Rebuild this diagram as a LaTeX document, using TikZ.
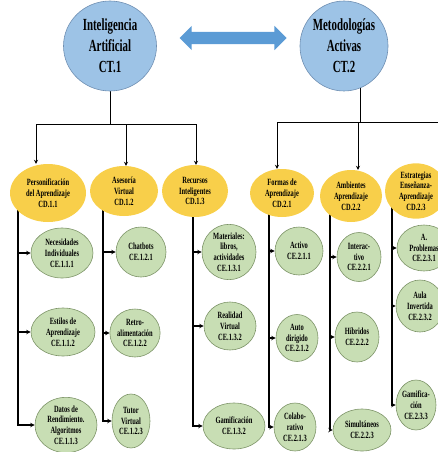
\documentclass[tikz,border=0pt]{standalone}
\usepackage{fontspec}
\newfontfamily\narrowfont[FakeStretch=0.68]{Liberation Serif}
\newfontfamily\titlefont[FakeStretch=0.64]{Liberation Serif}
\usetikzlibrary{shapes.geometric,shapes.arrows,arrows.meta}
\pgfdeclarelayer{background}
\pgfsetlayers{background,main}
\definecolor{topblue}{HTML}{9DC3E6}
\definecolor{topedge}{HTML}{6F8FB2}
\definecolor{linkblue}{HTML}{5B9BD5}
\definecolor{dimyellow}{HTML}{F8CF4A}
\definecolor{itemgreen}{HTML}{C8DEB4}
\definecolor{itemedge}{HTML}{7D9468}
\begin{document}
\begin{tikzpicture}[x=1pt, y=-1pt,
    every node/.style={ellipse, inner sep=0pt, align=center, font=\narrowfont\bfseries\fontsize{9.5}{10.8}\selectfont},
    topnode/.style={draw=topedge, line width=0.6pt, fill=topblue, font=\titlefont\bfseries\fontsize{17}{21}\selectfont},
    dimnode/.style={fill=dimyellow},
    itemnode/.style={draw=itemedge, line width=0.6pt, fill=itemgreen},
    feed/.style={-{Stealth[length=4pt,width=4pt]}, line width=1pt},
    branch/.style={-{Stealth[length=4.5pt,width=4.5pt]}, line width=1.3pt}]
    \useasboundingbox (0,0) rectangle (438,452);
    \clip (0,0) rectangle (438,452);

        % Two categories.
        \node[topnode, minimum width=93pt, minimum height=90pt] (ct1) at (110,46) {Inteligencia\\Artificial\\CT.1};
        \node[topnode, minimum width=88pt, minimum height=90pt] (ct2) at (344,46) {Metodologías\\Activas\\CT.2};
        \node[double arrow, fill=linkblue, minimum height=107pt, inner sep=6pt, double arrow head extend=6pt] (relation) at (233,38) {};

        % Dimensions of CT.1.
        \node[dimnode, minimum width=76pt, minimum height=58pt] (cd11) at (48,193) {Personificación\\del Aprendizaje\\CD.1.1};
        \node[dimnode, minimum width=68pt, minimum height=50pt] (cd12) at (124,191) {Asesoría\\Virtual\\CD.1.2};
        \node[dimnode, minimum width=66pt, minimum height=52pt] (cd13) at (195,191) {Recursos\\Inteligentes\\CD.1.3};

        % Dimensions of CT.2.
        \node[dimnode, minimum width=64pt, minimum height=48pt] (cd21) at (282,193) {Formas de\\Aprendizaje\\CD.2.1};
        \node[dimnode, minimum width=62pt, minimum height=52pt] (cd22) at (351,196) {Ambientes\\Aprendizaje\\CD.2.2};
        \node[dimnode, minimum width=62pt, minimum height=52pt] (cd23) at (416,191) {Estrategias\\Enseñanza-\\Aprendizaje\\CD.2.3};

        % Items of CD.1.1, CD.1.2, CD.1.3.
        \node[itemnode, minimum width=62pt, minimum height=50pt] (ce111) at (62,253) {Necesidades\\Individuales\\CE.1.1.1};
        \node[itemnode, minimum width=64pt, minimum height=48pt] (ce112) at (63,332) {Estilos de\\Aprendizaje\\CE.1.1.2};
        \node[itemnode, minimum width=62pt, minimum height=55pt] (ce113) at (66,425) {Datos de\\Rendimiento.\\Algoritmos\\CE.1.1.3};
        \node[itemnode, minimum width=50pt, minimum height=50pt] (ce121) at (141,252) {Chatbots\\CE.1.2.1};
        \node[itemnode, minimum width=46pt, minimum height=48pt] (ce122) at (135,333) {Retro-\\alimentación\\CE.1.2.2};
        \node[itemnode, minimum width=38pt, minimum height=54pt] (ce123) at (131,421) {Tutor\\Virtual\\CE.1.2.3};
        \node[itemnode, minimum width=54pt, minimum height=50pt] (ce131) at (229,252) {Materiales:\\libros,\\actividades\\CE.1.3.1};
        \node[itemnode, minimum width=52pt, minimum height=48pt] (ce132) at (230,326) {Realidad\\Virtual\\CE.1.3.2};
        \node[itemnode, minimum width=62pt, minimum height=46pt] (ce133) at (234,426) {Gamificación\\CE.1.3.2};

        % Items of CD.2.1, CD.2.2, CD.2.3.
        \node[itemnode, minimum width=48pt, minimum height=48pt] (ce211) at (299,251) {Activo\\CE.2.1.1};
        \node[itemnode, minimum width=42pt, minimum height=47pt] (ce212) at (297,338) {Auto\\dirigido\\CE.2.1.2};
        \node[itemnode, minimum width=42pt, minimum height=48pt] (ce213) at (295,427) {Colabo-\\rativo\\CE.2.1.3};
        \node[itemnode, minimum width=44pt, minimum height=49pt] (ce221) at (359,257) {Interac-\\tivo\\CE.2.2.1};
        \node[itemnode, minimum width=44pt, minimum height=50pt] (ce222) at (357,337) {Híbridos\\CE.2.2.2};
        \node[itemnode, minimum width=58pt, minimum height=42pt] (ce223) at (362,430) {Simultáneos\\CE.2.2.3};
        \node[itemnode, minimum width=54pt, minimum height=46pt] (ce231) at (424,248) {A.\\Problemas\\CE.2.3.1};
        \node[itemnode, minimum width=48pt, minimum height=52pt] (ce232) at (420,306) {Aula\\Invertida\\CE.2.3.2};
        \node[itemnode, minimum width=40pt, minimum height=50pt] (ce233) at (416,405) {Gamifica-\\ción\\CE.2.3.3};

        \begin{pgfonlayer}{background}
        % Category to dimension.
        \draw[feed] (ct1.center) -- ++(0,78) -| ([xshift=-12pt]cd11.north);
        \draw[feed] (ct1.center) -- ++(0,78) -| ([xshift=2pt]cd12.north);
        \draw[feed] (ct1.center) -- ++(0,78) -| ([xshift=1pt]cd13.north);
        \draw[feed] ([xshift=16pt]ct2.center) -- ++(0,76) -| ([xshift=-5pt]cd21.north);
        \draw[feed] ([xshift=16pt]ct2.center) -- ++(0,76) -| ([xshift=7pt]cd22.north);
        \draw[feed] ([xshift=16pt]ct2.center) -- ++(0,76) -| ([xshift=30pt]cd23.north);

        % Dimension to item.
        \foreach \item in {ce111,ce112,ce113}
            \draw[branch] ([xshift=-30pt]cd11.center) |- (\item.west);
        \foreach \item in {ce121,ce122,ce123}
            \draw[branch] ([xshift=-21pt]cd12.center) |- (\item.west);
        \foreach \item in {ce131,ce132,ce133}
            \draw[branch] ([xshift=-2pt]cd13.center) |- (\item.west);
        \foreach \item in {ce211,ce212,ce213}
            \draw[branch] ([xshift=-13pt]cd21.center) |- (\item.west);
        \foreach \item in {ce221,ce222,ce223}
            \draw[branch] ([xshift=-21pt]cd22.center) |- (\item.west);
        \foreach \item in {ce231,ce232,ce233}
            \draw[branch] ([xshift=-24pt]cd23.center) |- (\item.west);
        \end{pgfonlayer}

    \end{tikzpicture}
\end{document}
